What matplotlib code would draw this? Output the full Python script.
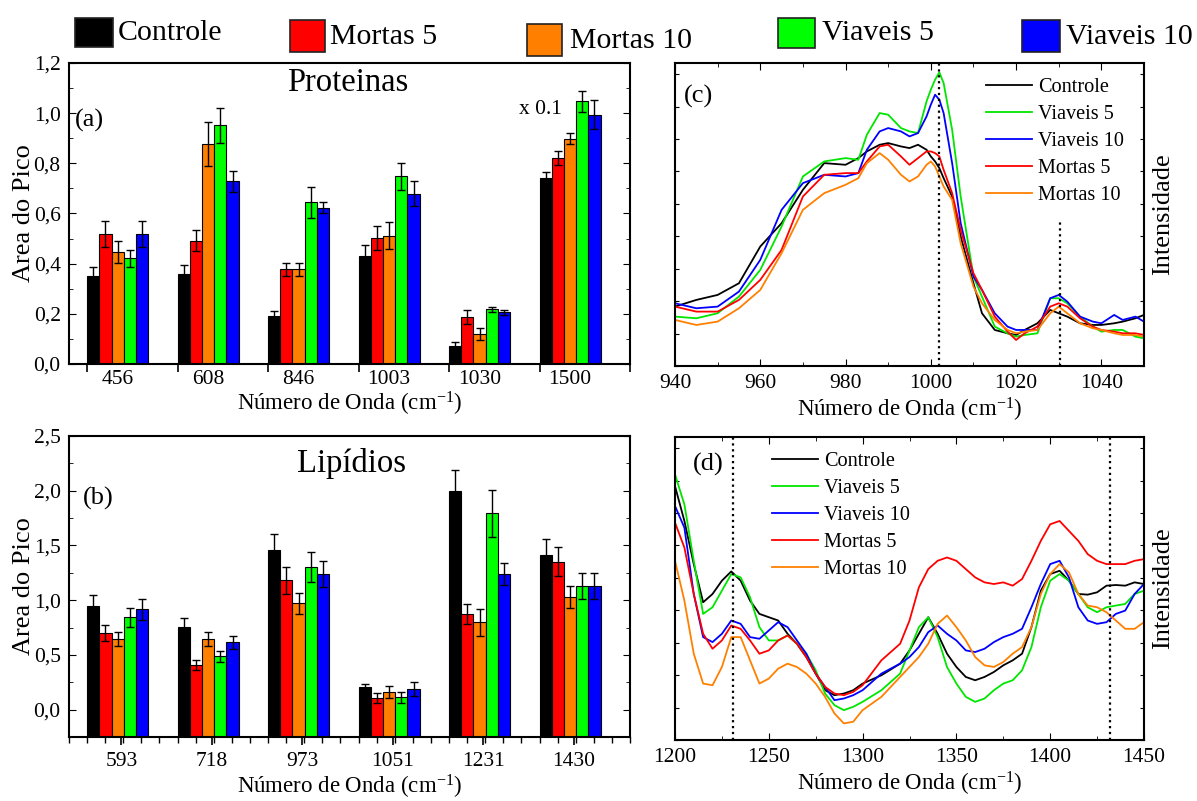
import numpy as np
import matplotlib
matplotlib.use('Agg')
import matplotlib.pyplot as plt
from matplotlib.patches import Rectangle
from matplotlib.ticker import MultipleLocator, FuncFormatter, FixedLocator

plt.rcParams['font.family'] = ['Liberation Serif', 'DejaVu Serif']
plt.rcParams['mathtext.fontset'] = 'custom'
plt.rcParams['mathtext.rm'] = 'Liberation Serif'
plt.rcParams['mathtext.it'] = 'Liberation Serif:italic'

# ---- bar data ----
series = ['Controle', 'Mortas 5', 'Mortas 10', 'Viaveis 5', 'Viaveis 10']
bar_colors = ['#000000', '#FF0000', '#FF8000', '#00FF00', '#0000FF']

prot_bands = ['456', '608', '846', '1003', '1030', '1500']
prot_ctrl = [0.349, 0.359, 0.192, 0.431, 0.072, 0.742]
prot_m5 = [0.518, 0.491, 0.378, 0.504, 0.188, 0.822]
prot_m10 = [0.446, 0.876, 0.378, 0.512, 0.118, 0.899]
prot_v5 = [0.422, 0.952, 0.644, 0.748, 0.219, 1.047]
prot_v10 = [0.518, 0.728, 0.623, 0.679, 0.207, 0.994]
prot_ctrl_err = [0.037, 0.037, 0.019, 0.042, 0.016, 0.025]
prot_m5_err = [0.053, 0.042, 0.026, 0.048, 0.029, 0.027]
prot_m10_err = [0.043, 0.088, 0.026, 0.053, 0.024, 0.022]
prot_v5_err = [0.034, 0.069, 0.063, 0.054, 0.010, 0.041]
prot_v10_err = [0.053, 0.042, 0.021, 0.050, 0.010, 0.057]

lip_bands = ['593', '718', '973', '1051', '1231', '1430']
lip_ctrl = [0.949, 0.757, 1.457, 0.207, 1.995, 1.414]
lip_m5 = [0.696, 0.404, 1.180, 0.106, 0.870, 1.353]
lip_m10 = [0.645, 0.645, 0.973, 0.158, 0.797, 1.028]
lip_v5 = [0.842, 0.487, 1.299, 0.113, 1.794, 1.128]
lip_v10 = [0.915, 0.614, 1.238, 0.189, 1.238, 1.128]
lip_ctrl_err = [0.094, 0.076, 0.146, 0.030, 0.198, 0.143]
lip_m5_err = [0.073, 0.046, 0.119, 0.049, 0.091, 0.131]
lip_m10_err = [0.067, 0.061, 0.095, 0.055, 0.121, 0.103]
lip_v5_err = [0.089, 0.051, 0.137, 0.051, 0.213, 0.116]
lip_v10_err = [0.092, 0.058, 0.121, 0.060, 0.103, 0.116]

# ---- spectra (c): levels (arbitrary units) ----
wn_c = [940, 945, 950, 955, 960, 965, 970, 975, 980, 983, 985, 988, 990, 993, 995,
        997, 999, 1000, 1001, 1002, 1003, 1005, 1007, 1010, 1012, 1015, 1018, 1020,
        1022, 1025, 1028, 1030, 1032, 1035, 1038, 1040, 1043, 1045, 1048, 1050]
c_ctrl = [770, 750, 735, 700, 590, 520, 420, 340, 345, 325, 305, 285, 280, 290, 295,
          285, 300, 320, 335, 355, 385, 440, 560, 700, 790, 840, 850, 855,
          840, 820, 780, 790, 800, 820, 825, 825, 820, 815, 805, 795]
c_v5 = [800, 805, 790, 740, 660, 530, 380, 335, 325, 330, 255, 190, 195, 235, 245,
        250, 155, 120, 90, 68, 100, 240, 440, 680, 740, 830, 850, 860,
        855, 850, 745, 745, 760, 800, 830, 845, 840, 840, 860, 865]
c_v10 = [760, 775, 770, 725, 630, 480, 400, 375, 380, 370, 300, 245, 235, 245, 260,
         250, 200, 165, 135, 150, 190, 340, 520, 680, 720, 790, 830, 840,
         840, 840, 745, 735, 755, 800, 815, 820, 795, 810, 800, 815]
c_m5 = [770, 785, 785, 750, 690, 600, 440, 375, 370, 370, 335, 290, 285, 320, 345,
        325, 305, 305, 310, 320, 360, 430, 540, 670, 720, 800, 845, 870,
        850, 830, 770, 760, 770, 805, 830, 840, 845, 850, 850, 855]
c_m10 = [810, 825, 815, 775, 720, 610, 480, 430, 405, 385, 340, 310, 330, 375, 395,
         380, 345, 335, 350, 380, 410, 450, 580, 710, 760, 810, 840, 850,
         845, 840, 790, 770, 790, 820, 835, 840, 850, 855, 855, 860]

# ---- spectra (d) ----
wn_d = [1200, 1205, 1210, 1215, 1220, 1225, 1230, 1235, 1240, 1245, 1250, 1255, 1260,
        1265, 1270, 1275, 1280, 1285, 1290, 1295, 1300, 1310, 1320, 1325, 1330, 1335,
        1340, 1345, 1350, 1355, 1360, 1365, 1370, 1375, 1380, 1385, 1390, 1395, 1400,
        1405, 1410, 1415, 1420, 1425, 1430, 1435, 1440, 1445, 1450]
d_ctrl = [195, 300, 430, 545, 520, 480, 452, 480, 540, 580, 590, 600, 640,
          670, 710, 760, 810, 825, 820, 810, 790, 765, 730, 690, 640, 590,
          640, 700, 740, 770, 780, 770, 755, 735, 720, 700, 620, 510, 460,
          450, 480, 520, 522, 515, 495, 493, 495, 485, 490]
d_v5 = [160, 250, 420, 580, 560, 510, 460, 470, 530, 620, 660, 660, 645,
        670, 700, 750, 820, 855, 870, 860, 845, 810, 760, 690, 620, 590,
        650, 740, 790, 830, 845, 835, 810, 790, 780, 750, 680, 560, 480,
        460, 480, 520, 560, 575, 560, 555, 550, 520, 510]
d_v10 = [255, 320, 520, 650, 665, 640, 600, 610, 650, 655, 630, 605, 620,
         660, 700, 760, 800, 840, 835, 825, 810, 760, 730, 710, 680, 635,
         615, 640, 660, 690, 695, 685, 665, 650, 640, 625, 560, 490, 430,
         420, 470, 560, 600, 610, 605, 580, 570, 520, 490]
d_m5 = [305, 380, 520, 640, 685, 660, 615, 625, 660, 700, 690, 660, 645,
        670, 710, 760, 800, 820, 825, 815, 795, 720, 670, 600, 500, 445,
        420, 410, 420, 445, 470, 485, 490, 485, 495, 475, 420, 360, 310,
        300, 330, 360, 400, 420, 430, 430, 430, 420, 415]
d_m10 = [420, 540, 700, 790, 795, 740, 650, 650, 720, 790, 775, 745, 730,
         740, 760, 790, 830, 880, 910, 905, 870, 830, 770, 740, 710, 670,
         610, 585, 620, 660, 710, 735, 740, 725, 700, 680, 620, 520, 460,
         430, 455, 520, 555, 560, 575, 600, 625, 625, 605]

spec_labels = ['Controle', 'Viaveis 5', 'Viaveis 10', 'Mortas 5', 'Mortas 10']
spec_colors = ['#000000', '#00E600', '#0000FF', '#FF0000', '#FF8000']

W, H = 1197, 801
TICK = 15.5
XLAB = 'Número de Onda (cm$^{-1}$)'
comma = FuncFormatter(lambda v, p: f'{v:.1f}'.replace('.', ','))


def bar_panel(ax, bands, vals, errs, ymin, ymax, ymaj, ymin_step):
    w = 0.135
    idx = np.arange(len(bands))
    for j, (v, e) in enumerate(zip(vals, errs)):
        v = np.array(v)
        ax.bar(idx + j * w, v - ymin, bottom=ymin, width=w, align='edge',
               color=bar_colors[j], edgecolor='black', linewidth=0.8, zorder=2)
        ax.errorbar(idx + j * w + w / 2, v, yerr=e, fmt='none', ecolor='black',
                    elinewidth=1, capsize=3, capthick=1, zorder=3)
    ax.set_xlim(-0.2, 6.0)
    ax.set_ylim(ymin, ymax)
    ax.yaxis.set_major_locator(MultipleLocator(ymaj))
    ax.yaxis.set_minor_locator(MultipleLocator(ymin_step))
    ax.yaxis.set_major_formatter(comma)
    ax.tick_params(axis='y', which='both', direction='in', right=True,
                   labelsize=TICK, pad=6)
    ax.tick_params(axis='y', which='major', length=5)
    ax.tick_params(axis='y', which='minor', length=3)
    ax.set_ylabel('Area do Pico', fontsize=19, labelpad=-1)
    for s in ax.spines.values():
        s.set_linewidth(1.5)


def spec_panel(ax, x, curves, y0, span, leg_x):
    for c, lab, col in zip(curves, spec_labels, spec_colors):
        ax.plot(x, (y0 - np.array(c)) / span, color=col, lw=1.3, label=lab)
    ax.set_ylim(0, 1)
    ax.yaxis.set_major_locator(MultipleLocator(0.107))
    ax.set_yticklabels([])
    ax.tick_params(axis='both', which='both', direction='in', top=True,
                   right=True, labelsize=TICK, pad=6)
    ax.tick_params(axis='y', which='both', labelleft=False, length=3)
    ax.tick_params(axis='x', which='major', length=5)
    ax.tick_params(axis='x', which='minor', length=3)
    ax.yaxis.set_label_position('right')
    ax.set_ylabel('Intensidade', fontsize=19, labelpad=6)
    ax.set_xlabel(XLAB, fontsize=16.5, labelpad=2)
    ax.legend(loc='upper left', frameon=False, fontsize=14.6, handlelength=2.27,
              handletextpad=0.3, labelspacing=0.38, borderpad=0, borderaxespad=0,
              bbox_to_anchor=(leg_x, 0.95))
    for s in ax.spines.values():
        s.set_linewidth(1.5)


fig = plt.figure(figsize=(W / 100, H / 100), dpi=100)

# (a) proteins
ax_a = fig.add_axes([69 / W, 1 - 364 / H, 561 / W, 301 / H])
bar_panel(ax_a, prot_bands,
          [prot_ctrl, prot_m5, prot_m10, prot_v5, prot_v10],
          [prot_ctrl_err, prot_m5_err, prot_m10_err, prot_v5_err, prot_v10_err],
          0.0, 1.2, 0.2, 0.1)
centers = np.arange(len(prot_bands)) + 0.335
ax_a.xaxis.set_major_locator(FixedLocator(centers))
ax_a.set_xticklabels(prot_bands)
ax_a.xaxis.set_minor_locator(FixedLocator(np.arange(0, 7)))
ax_a.tick_params(axis='x', which='major', length=0, labelsize=TICK, pad=4)
ax_a.tick_params(axis='x', which='minor', length=6, width=1.2, direction='out')
ax_a.set_xlabel(XLAB, fontsize=16.5, labelpad=1)
ax_a.text(0.011, 0.81, '(a)', transform=ax_a.transAxes, fontsize=19, va='center')
ax_a.text(0.497, 0.934, 'Proteinas', transform=ax_a.transAxes, fontsize=23.5,
          ha='center', va='center')
ax_a.text(0.84, 0.847, 'x 0.1', transform=ax_a.transAxes, fontsize=15.5,
          ha='center', va='center')

# (b) lipids
ax_b = fig.add_axes([69 / W, 1 - 737 / H, 561 / W, 301 / H])
bar_panel(ax_b, lip_bands,
          [lip_ctrl, lip_m5, lip_m10, lip_v5, lip_v10],
          [lip_ctrl_err, lip_m5_err, lip_m10_err, lip_v5_err, lip_v10_err],
          -0.25, 2.5, 0.5, 0.25)
lab_pos = np.arange(len(lip_bands)) + 0.38
ax_b.xaxis.set_major_locator(FixedLocator(lab_pos))
ax_b.set_xticklabels(lip_bands)
ax_b.xaxis.set_minor_locator(MultipleLocator(0.2))
ax_b.tick_params(axis='x', which='major', length=6, width=1.2, direction='out',
                 labelsize=TICK, pad=5)
ax_b.tick_params(axis='x', which='minor', length=4, width=1.0, direction='out')
ax_b.set_xlabel(XLAB, fontsize=16.5, labelpad=1)
ax_b.text(0.025, 0.794, '(b)', transform=ax_b.transAxes, fontsize=19, va='center')
ax_b.text(0.503, 0.91, 'Lipídios', transform=ax_b.transAxes, fontsize=23.5,
          ha='center', va='center')

# (c) 940-1050 spectra
ax_c = fig.add_axes([675 / W, 1 - 366 / H, 469 / W, 303 / H])
spec_panel(ax_c, wn_c, [c_ctrl, c_v5, c_v10, c_m5, c_m10], 948, 908, 0.663)
ax_c.set_xlim(940, 1050)
ax_c.xaxis.set_major_locator(MultipleLocator(20))
ax_c.xaxis.set_minor_locator(MultipleLocator(10))
ax_c.axvline(1002, color='black', ls=':', lw=1.6)
ax_c.axvline(1030.3, ymax=0.48, color='black', ls=':', lw=1.6)
ax_c.text(0.019, 0.888, '(c)', transform=ax_c.transAxes, fontsize=19, va='center')

# (d) 1200-1450 spectra
ax_d = fig.add_axes([675 / W, 1 - 740 / H, 469 / W, 303 / H])
spec_panel(ax_d, wn_d, [d_ctrl, d_v5, d_v10, d_m5, d_m10], 960, 913, 0.207)
ax_d.set_xlim(1200, 1450)
ax_d.xaxis.set_major_locator(MultipleLocator(50))
ax_d.xaxis.set_minor_locator(MultipleLocator(25))
ax_d.axvline(1231, color='black', ls=':', lw=1.6)
ax_d.axvline(1432, color='black', ls=':', lw=1.6)
ax_d.text(0.038, 0.908, '(d)', transform=ax_d.transAxes, fontsize=19, va='center')

# top legend for the bar charts
boxes = [(75, 18, 113, 47), (290, 20, 325, 52), (527, 24, 562, 56),
         (778, 18, 815, 48), (1022, 20, 1060, 52)]
text_xy = [(118, 33), (330, 37), (570, 41), (822, 33), (1066, 37)]
for (x0, y0, x1, y1), (tx, ty), lab, col in zip(boxes, text_xy, series, bar_colors):
    fig.add_artist(Rectangle((x0 / W, 1 - y1 / H), (x1 - x0) / W, (y1 - y0) / H,
                             transform=fig.transFigure, facecolor=col,
                             edgecolor='#222222', linewidth=1.2))
    fig.text(tx / W, 1 - ty / H, lab, fontsize=21.5, va='center', ha='left')

fig.savefig('out.png', dpi=100)
